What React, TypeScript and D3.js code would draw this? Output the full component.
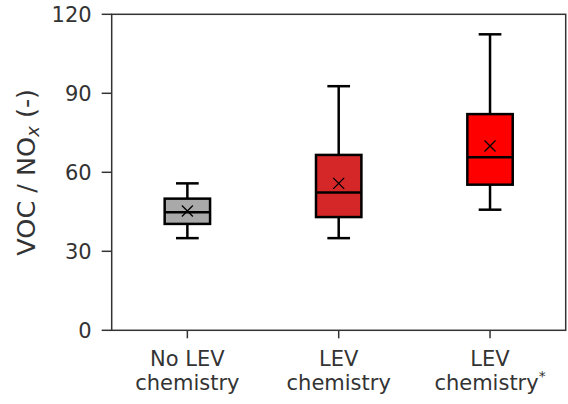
import React from "react";
import * as d3 from "d3";

const categories = ["No LEV|chemistry", "LEV|chemistry", "LEV|chemistry*"];
const whiskerLow = [35, 35, 45.8];
const q1 = [40.4, 43, 55.3];
const median = [44.8, 52.3, 65.7];
const q3 = [50, 66.6, 82.1];
const whiskerHigh = [55.8, 92.7, 112.4];
const means = [45.3, 55.8, 70];
const colors = ["#a9a9a9", "#d62728", "#ff0000"];
const yTicks = [0, 30, 60, 90, 120];

const W = 568, H = 404;
const L = 111.7, R = 565.7, T = 14.3, B = 330.3;

export default function App() {
  const x = d3.scaleLinear().domain([0, 3]).range([L, R]);
  const y = d3.scaleLinear().domain([0, 120]).range([B, T]);
  const bw = (x(1) - x(0)) * 0.3;
  const cw = bw / 2;
  const font = "DejaVu Sans, sans-serif";
  const ink = "#333333";
  const fs = 21;
  return (
    <svg width={W} height={H} style={{ position: "absolute", left: 0, top: 0 }}>
      <rect x={0} y={0} width={W} height={H} fill="white" />
      {categories.map((c, i) => {
        const cx = x(i + 0.5);
        return (
          <g key={i}>
            <line x1={cx} x2={cx} y1={y(q3[i])} y2={y(whiskerHigh[i])} stroke="black" strokeWidth={2.5} />
            <line x1={cx} x2={cx} y1={y(q1[i])} y2={y(whiskerLow[i])} stroke="black" strokeWidth={2.5} />
            <line x1={cx - cw / 2} x2={cx + cw / 2} y1={y(whiskerHigh[i])} y2={y(whiskerHigh[i])} stroke="black" strokeWidth={2.5} />
            <line x1={cx - cw / 2} x2={cx + cw / 2} y1={y(whiskerLow[i])} y2={y(whiskerLow[i])} stroke="black" strokeWidth={2.5} />
            <rect x={cx - bw / 2} y={y(q3[i])} width={bw} height={y(q1[i]) - y(q3[i])} fill={colors[i]} stroke="black" strokeWidth={2.5} />
            <line x1={cx - bw / 2} x2={cx + bw / 2} y1={y(median[i])} y2={y(median[i])} stroke="black" strokeWidth={2.5} />
            <path
              d={`M${cx - 5.5},${y(means[i]) - 5.5}L${cx + 5.5},${y(means[i]) + 5.5}M${cx - 5.5},${y(means[i]) + 5.5}L${cx + 5.5},${y(means[i]) - 5.5}`}
              stroke="black"
              strokeWidth={1.3}
              fill="none"
            />
          </g>
        );
      })}
      <rect x={L} y={T} width={R - L} height={B - T} fill="none" stroke={ink} strokeWidth={1.5} />
      {yTicks.map((t) => (
        <g key={t}>
          <line x1={L - 10} x2={L} y1={y(t)} y2={y(t)} stroke={ink} strokeWidth={1.5} />
          <text x={L - 20} y={y(t)} dy="0.36em" textAnchor="end" fontFamily={font} fontSize={fs} fill={ink}>
            {t}
          </text>
        </g>
      ))}
      {categories.map((c, i) => {
        const cx = x(i + 0.5);
        const [l1, l2] = c.split("|");
        const star = l2.endsWith("*");
        return (
          <g key={c}>
            <line x1={cx} x2={cx} y1={B} y2={B + 8} stroke={ink} strokeWidth={1.5} />
            <text x={cx} y={366} textAnchor="middle" fontFamily={font} fontSize={fs} fill={ink}>
              {l1}
            </text>
            <text x={cx} y={389.5} textAnchor="middle" fontFamily={font} fontSize={fs} fill={ink}>
              {star ? l2.slice(0, -1) : l2}
              {star ? <tspan dy={-9} fontSize={14}>*</tspan> : null}
            </text>
          </g>
        );
      })}
      <text transform={`translate(35, ${(T + B) / 2}) rotate(-90)`} textAnchor="middle" fontFamily={font} fontSize={25.5} fill={ink}>
        VOC / NO<tspan dy={4} fontSize={18} fontStyle="italic">x</tspan>
        <tspan dy={-4}> (-)</tspan>
      </text>
    </svg>
  );
}
